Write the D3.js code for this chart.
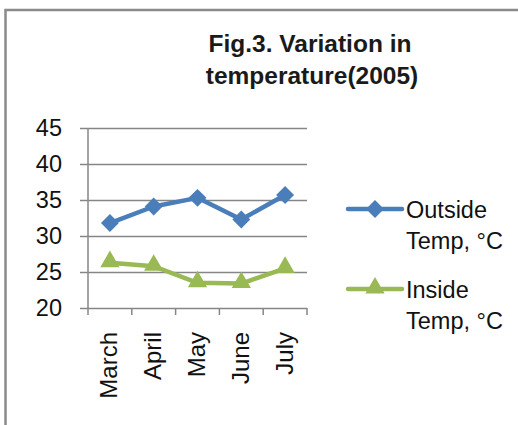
<!DOCTYPE html>
<html>
<head>
<meta charset="utf-8">
<script src="https://cdn.jsdelivr.net/npm/d3@7"></script>
<style>
  html, body { margin: 0; padding: 0; background: #fff; }
  svg { display: block; font-family: "Liberation Sans", Arial, sans-serif; }
</style>
</head>
<body>
<div id="chart"></div>
<script>
// chart data
const months = ["March", "April", "May", "June", "July"];
const outsideTemp = [31.8, 34.1, 35.3, 32.3, 35.7];
const insideTemp = [26.3, 25.8, 23.5, 23.4, 25.5];
const yTicks = [20, 25, 30, 35, 40, 45];
const seriesNames = [["Outside", "Temp, °C"], ["Inside", "Temp, °C"]];

const W = 518, H = 425;
const BLUE = "#4a7ebb", GREEN = "#98b954", GRID = "#868686";

const svg = d3.select("#chart").append("svg")
    .attr("width", W)
    .attr("height", H);

svg.append("rect").attr("width", W).attr("height", H).attr("fill", "#fff");

// outer frame (runs off the right and bottom edges)
svg.append("rect")
    .attr("x", 5.5).attr("y", 10)
    .attr("width", W + 20).attr("height", H + 20)
    .attr("fill", "none")
    .attr("stroke", "#8a8a8a")
    .attr("stroke-width", 2.5);

// title
const title = svg.append("text")
    .attr("text-anchor", "middle")
    .attr("font-weight", "bold")
    .attr("font-size", 24.5)
    .attr("fill", "#1a1a1a");
title.append("tspan").attr("x", 310).attr("y", 52).text("Fig.3. Variation in");
title.append("tspan").attr("x", 312).attr("y", 84).text("temperature(2005)");

// scales
const x = d3.scaleBand().domain(months).range([88, 307]);
const y = d3.scaleLinear().domain([20, 45]).range([308, 128]);

// y gridlines + labels
const yAxis = svg.append("g")
    .attr("transform", "translate(80,0)")
    .call(d3.axisLeft(y).tickValues(yTicks).tickSize(-(307 - 80)).tickPadding(18));
yAxis.select(".domain").remove();
yAxis.selectAll(".tick line").attr("stroke", GRID).attr("stroke-width", 1.5);
yAxis.selectAll(".tick text")
    .attr("font-size", 23.5)
    .attr("font-family", "Liberation Sans, Arial, sans-serif")
    .attr("fill", "#111");

// y axis line
svg.append("line")
    .attr("x1", 88).attr("x2", 88)
    .attr("y1", y(45)).attr("y2", y(20))
    .attr("stroke", GRID).attr("stroke-width", 1.5);

// x axis ticks at band edges
const edges = months.map(m => x(m)).concat([x.range()[1]]);
svg.append("g").selectAll("line")
    .data(edges)
    .join("line")
    .attr("x1", d => d).attr("x2", d => d)
    .attr("y1", y(20)).attr("y2", y(20) + 7)
    .attr("stroke", GRID).attr("stroke-width", 1.5);

// month labels, rotated
svg.append("g").selectAll("text")
    .data(months)
    .join("text")
    .attr("transform", d => `translate(${x(d) + x.bandwidth() / 2 - 1},332) rotate(-90)`)
    .attr("text-anchor", "end")
    .attr("dy", "0.35em")
    .attr("font-size", 24)
    .attr("fill", "#111")
    .text(d => d);

const line = d3.line()
    .x((d, i) => x(months[i]) + x.bandwidth() / 2)
    .y(d => y(d));

const diamond = d3.symbol().type(d3.symbolSquare).size(160);
const triangle = d3.symbol().type(d3.symbolTriangle).size(160);

function drawSeries(values, color, kind) {
    svg.append("path")
        .datum(values)
        .attr("d", line)
        .attr("fill", "none")
        .attr("stroke", color)
        .attr("stroke-width", 4.5)
        .attr("stroke-linejoin", "round");
    svg.append("g").selectAll("path")
        .data(values)
        .join("path")
        .attr("transform", (d, i) => {
            const cx = x(months[i]) + x.bandwidth() / 2;
            return kind === "diamond"
                ? `translate(${cx},${y(d)}) rotate(45)`
                : `translate(${cx},${y(d) - 1})`;
        })
        .attr("d", kind === "diamond" ? diamond : triangle)
        .attr("fill", color);
}

drawSeries(outsideTemp, BLUE, "diamond");
drawSeries(insideTemp, GREEN, "triangle");

// legend
const legendRows = [
    { name: seriesNames[0], color: BLUE, kind: "diamond", y: 209 },
    { name: seriesNames[1], color: GREEN, kind: "triangle", y: 289 }
];
legendRows.forEach(r => {
    svg.append("line")
        .attr("x1", 348).attr("x2", 402)
        .attr("y1", r.y).attr("y2", r.y)
        .attr("stroke", r.color).attr("stroke-width", 4.5)
        .attr("stroke-linecap", "round");
    svg.append("path")
        .attr("transform", r.kind === "diamond"
            ? `translate(375,${r.y}) rotate(45)`
            : `translate(375,${r.y - 1})`)
        .attr("d", r.kind === "diamond" ? diamond : triangle)
        .attr("fill", r.color);
    const t = svg.append("text")
        .attr("font-size", 23.5)
        .attr("fill", "#111");
    t.append("tspan").attr("x", 406).attr("y", r.y + 8.5).text(r.name[0]);
    t.append("tspan").attr("x", 406).attr("y", r.y + 39.5).text(r.name[1]);
});
</script>
</body>
</html>
